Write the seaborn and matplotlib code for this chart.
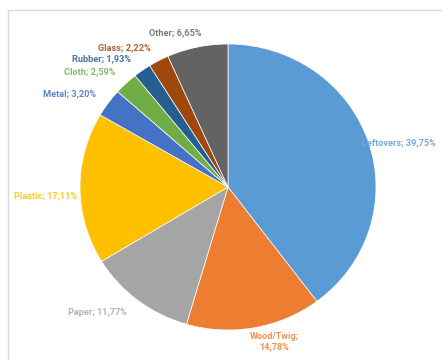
import matplotlib
matplotlib.use("Agg")
import matplotlib.pyplot as plt
from matplotlib.lines import Line2D
from matplotlib.colors import to_rgb
import seaborn as sns

# Waste composition shares (%)
categories = ["Leftovers", "Wood/Twig", "Paper", "Plastic", "Metal",
              "Cloth", "Rubber", "Glass", "Other"]
shares = [39.75, 14.78, 11.77, 17.11, 3.20, 2.59, 1.93, 2.22, 6.65]
value_labels = ["39,75%", "14,78%", "11,77%", "17,11%", "3,20%",
                "2,59%", "1,93%", "2,22%", "6,65%"]

colors = ["#5B9BD5", "#ED7D31", "#A5A5A5", "#FFC000", "#4472C4",
          "#70AD47", "#255E91", "#9E480E", "#636363"]

# label anchor (axes data units) and alignment for each category
label_layout = {
    "Leftovers": (0.905, 0.308, "left"),
    "Wood/Twig": (0.311, -1.084, "center"),
    "Paper": (-0.885, -0.881, "center"),
    "Plastic": (-1.236, -0.063, "center"),
    "Metal": (-1.068, 0.650, "center"),
    "Cloth": (-0.932, 0.804, "center"),
    "Rubber": (-0.858, 0.895, "center"),
    "Glass": (-0.703, 0.972, "center"),
    "Other": (-0.358, 1.077, "center"),
}


def lighten(c, amount=0.15):
    r, g, b = to_rgb(c)
    return (r + (1 - r) * amount, g + (1 - g) * amount, b + (1 - b) * amount)


sns.set_theme(style="white")
plt.rcParams["font.family"] = ["Roboto", "DejaVu Sans"]

W, H = 442, 360
fig = plt.figure(figsize=(W / 100, H / 100), dpi=100)
fig.patch.set_facecolor("white")

cx, cy, rx, ry = 228, 187, 148, 143
ax = fig.add_axes([(cx - rx) / W, (H - cy - ry) / H, 2 * rx / W, 2 * ry / H])

ax.pie(shares, colors=colors, startangle=90, counterclock=False,
       radius=1.0, wedgeprops=dict(edgecolor="white", linewidth=0.5))
ax.set_aspect("auto")
ax.set_xlim(-1, 1)
ax.set_ylim(-1, 1)
ax.axis("off")

for cat, val, col in zip(categories, value_labels, colors):
    x, y, ha = label_layout[cat]
    sep = ";\n" if cat == "Wood/Twig" else "; "
    ax.text(x, y, f"{cat}{sep}{val}", color=lighten(col), ha=ha, va="center",
            fontsize=6.6, fontweight="bold", clip_on=False, linespacing=1.2)

# chart area border (left and top edges visible)
fx, fy = 8 / W, 1 - 10 / H
fig.add_artist(Line2D([fx, 1], [fy, fy], color="#D9D9D9", lw=1.0,
                      transform=fig.transFigure))
fig.add_artist(Line2D([fx, fx], [0, fy], color="#D9D9D9", lw=1.0,
                      transform=fig.transFigure))

fig.savefig("out.png", dpi=100)
